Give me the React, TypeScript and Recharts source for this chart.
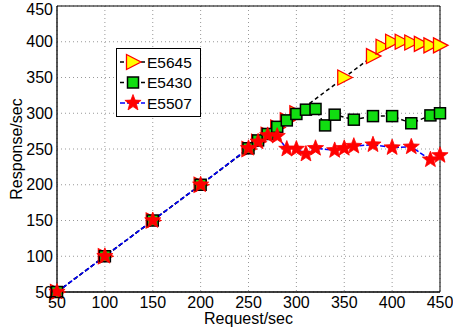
import { CartesianGrid, Legend, Line, LineChart, XAxis, YAxis } from 'recharts';

const X_TICKS = [50, 100, 150, 200, 250, 300, 350, 400, 450];
const Y_TICKS = [50, 100, 150, 200, 250, 300, 350, 400, 450];

const E5645_REQ = [50, 100, 150, 200, 250, 260, 270, 280, 290, 300, 350, 380, 390, 400, 410, 420, 430, 440, 450];
const E5645_RESP = [50, 100, 150, 200, 250, 260, 270, 280, 290, 300, 350, 380, 393, 400, 400, 399, 397, 395, 395];

const E5430_REQ = [50, 100, 150, 200, 250, 260, 270, 280, 290, 300, 310, 320, 330, 340, 360, 380, 400, 420, 440, 450];
const E5430_RESP = [50, 100, 150, 200, 251, 262, 271, 281, 290, 299, 305, 306, 283, 298, 291, 296, 296, 286, 297, 300];

const E5507_REQ = [50, 100, 150, 200, 250, 260, 270, 280, 290, 300, 310, 320, 340, 350, 360, 380, 400, 420, 440, 450];
const E5507_RESP = [50, 100, 150, 200, 251, 260, 269, 268, 250, 250, 243, 251, 248, 251, 254, 256, 252, 253, 235, 241];

const toPoints = (xs: number[], ys: number[]) => xs.map((x, i) => ({ x, y: ys[i] }));

const FONT = '"Liberation Sans", Arial, Helvetica, sans-serif';
const tickStyle = { fontSize: 16, fill: '#000', fontFamily: FONT };

type DotProps = { cx?: number; cy?: number; index?: number };

function Triangle({ cx, cy }: { cx: number; cy: number }) {
  return (
    <polygon
      points={`${cx - 6.5},${cy - 7.5} ${cx - 6.5},${cy + 7.5} ${cx + 8},${cy}`}
      fill="#ffff00"
      stroke="#ff0000"
      strokeWidth={1.3}
    />
  );
}

function Square({ cx, cy }: { cx: number; cy: number }) {
  return <rect x={cx - 5.5} y={cy - 5.5} width={11} height={11} fill="#11dd11" stroke="#000" strokeWidth={1.5} />;
}

function Star({ cx, cy }: { cx: number; cy: number }) {
  const pts: string[] = [];
  for (let i = 0; i < 10; i++) {
    const r = i % 2 === 0 ? 8.5 : 3.6;
    const a = -Math.PI / 2 + (i * Math.PI) / 5;
    pts.push(`${cx + r * Math.cos(a)},${cy + r * Math.sin(a)}`);
  }
  return <polygon points={pts.join(' ')} fill="#ff0000" stroke="#ff0000" strokeWidth={0.8} />;
}

const dotOf = (Shape: typeof Triangle, name: string) => (props: DotProps) => {
  const { cx, cy, index } = props;
  if (cx == null || cy == null) return <g key={`${name}-${index}`} />;
  return (
    <g key={`${name}-${index}`}>
      <Shape cx={cx} cy={cy} />
    </g>
  );
};

const LEGEND_ROWS = [
  { name: 'E5645', color: '#000', dash: '4 3', Shape: Triangle },
  { name: 'E5430', color: '#000', dash: '4 3', Shape: Square },
  { name: 'E5507', color: '#0000ff', dash: '5 2', Shape: Star },
];

function LegendBox() {
  return (
    <svg width={85} height={69} style={{ display: 'block' }}>
      <rect x={0.5} y={0.5} width={84} height={68} fill="#fff" stroke="#000" strokeWidth={1} />
      {LEGEND_ROWS.map((row, i) => {
        const y = 14 + i * 20.5;
        return (
          <g key={row.name}>
            <line x1={4} x2={29} y1={y} y2={y} stroke={row.color} strokeWidth={1.5} strokeDasharray={row.dash} />
            <row.Shape cx={17} cy={y} />
            <text x={31} y={y + 5.5} fontSize={15.5} fontFamily={FONT} fill="#000">
              {row.name}
            </text>
          </g>
        );
      })}
    </svg>
  );
}

export default function App() {
  return (
    <div style={{ position: 'absolute', left: 0, top: 0, width: 453, height: 335, background: '#fff' }}>
      <LineChart width={453} height={335} margin={{ top: 6, right: 13, left: 0, bottom: 0 }}>
        <CartesianGrid stroke="#999" strokeDasharray="1 3" />
        <XAxis
          dataKey="x"
          type="number"
          domain={[50, 450]}
          ticks={X_TICKS}
          tickLine={false}
          tickSize={0}
          tickMargin={5}
          height={43}
          axisLine={{ stroke: '#000', strokeWidth: 1.3 }}
          tick={tickStyle}
          label={{ value: 'Request/sec', position: 'insideBottom', offset: 11, fontSize: 16, fill: '#000', fontFamily: FONT }}
        />
        <XAxis xAxisId="top" type="number" orientation="top" mirror domain={[50, 450]} ticks={X_TICKS} tick={false} tickSize={4} tickLine={{ stroke: '#000' }} axisLine={{ stroke: '#000' }} />
        <XAxis xAxisId="bin" type="number" orientation="bottom" mirror domain={[50, 450]} ticks={X_TICKS} tick={false} tickSize={4} tickLine={{ stroke: '#000' }} axisLine={false} />
        <YAxis
          type="number"
          domain={[50, 450]}
          ticks={Y_TICKS}
          tickLine={false}
          tickSize={0}
          tickMargin={4}
          width={57}
          axisLine={{ stroke: '#000', strokeWidth: 1.3 }}
          tick={tickStyle}
          label={{ value: 'Response/sec', angle: -90, position: 'insideLeft', offset: 16, fontSize: 16, fill: '#000', fontFamily: FONT, style: { textAnchor: 'middle' } }}
        />
        <YAxis yAxisId="right" type="number" orientation="right" mirror domain={[50, 450]} ticks={Y_TICKS} tick={false} tickSize={4} tickLine={{ stroke: '#000' }} axisLine={{ stroke: '#000' }} />
        <YAxis yAxisId="lin" type="number" orientation="left" mirror domain={[50, 450]} ticks={Y_TICKS} tick={false} tickSize={4} tickLine={{ stroke: '#000' }} axisLine={false} />
        <Legend
          layout="vertical"
          align="center"
          verticalAlign="middle"
          wrapperStyle={{ left: 116, top: 48, width: 85, height: 69 }}
          content={() => <LegendBox />}
        />
        <Line
          data={toPoints(E5645_REQ, E5645_RESP)}
          dataKey="y"
          name="E5645"
          stroke="#000"
          strokeWidth={1.5}
          strokeDasharray="4 3"
          dot={dotOf(Triangle, 'tri')}
          isAnimationActive={false}
        />
        <Line
          data={toPoints(E5430_REQ, E5430_RESP)}
          dataKey="y"
          name="E5430"
          stroke="#000"
          strokeWidth={1.5}
          strokeDasharray="4 3"
          dot={dotOf(Square, 'sq')}
          isAnimationActive={false}
        />
        <Line
          data={toPoints(E5507_REQ, E5507_RESP)}
          dataKey="y"
          name="E5507"
          stroke="#0000ff"
          strokeWidth={1.5}
          strokeDasharray="5 2"
          dot={dotOf(Star, 'st')}
          isAnimationActive={false}
        />
      </LineChart>
    </div>
  );
}
